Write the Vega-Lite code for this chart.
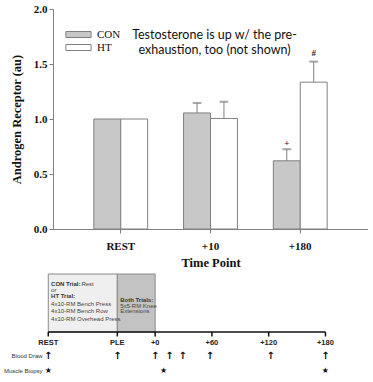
{
  "$schema": "https://vega.github.io/schema/vega-lite/v6.json",
  "padding": {"left": 3, "top": 3, "right": 0, "bottom": 0},
  "spacing": 4,
  "config": {"view": {"stroke": null}, "font": "Liberation Serif"},
  "vconcat": [
    {
      "width": 315,
      "height": 220,
      "data": {"values": [
        {"time": "REST", "group": "CON", "value": 1.0},
        {"time": "REST", "group": "HT", "value": 1.0},
        {"time": "+10", "group": "CON", "value": 1.055, "err": 1.145},
        {"time": "+10", "group": "HT", "value": 1.005, "err": 1.157},
        {"time": "+180", "group": "CON", "value": 0.62, "err": 0.725, "sig": "+", "sigY": 0.78},
        {"time": "+180", "group": "HT", "value": 1.335, "err": 1.522, "sig": "#", "sigY": 1.6}
      ]},
      "encoding": {
        "x": {
          "field": "time", "type": "nominal", "sort": ["REST", "+10", "+180"],
          "scale": {"paddingInner": 0.4, "paddingOuter": 0.455},
          "title": "Time Point",
          "axis": {
            "labelAngle": 0, "labelFont": "Liberation Serif", "labelFontWeight": "bold", "labelFontSize": 11,
            "labelColor": "#111", "labelPadding": 7, "tickSize": 4, "tickColor": "#808080",
            "domainColor": "#808080", "titleFont": "Liberation Serif", "titleFontWeight": "bold",
            "titleFontSize": 12.5, "titleColor": "#111", "titlePadding": 5
          }
        }
      },
      "layer": [
        {
          "mark": {"type": "bar", "stroke": "#808080", "strokeWidth": 1},
          "encoding": {
            "xOffset": {"field": "group", "sort": ["CON", "HT"]},
            "y": {
              "field": "value", "type": "quantitative", "scale": {"domain": [0, 2], "nice": false},
              "title": "Androgen Receptor (au)",
              "axis": {
                "values": [0, 0.25, 0.5, 0.75, 1, 1.25, 1.5, 1.75, 2],
                "labelExpr": "(datum.value * 2) % 1 == 0 ? format(datum.value, '.1f') : ''",
                "grid": false, "labelFont": "Liberation Serif", "labelFontWeight": "bold", "labelFontSize": 11,
                "labelColor": "#111", "labelPadding": 2, "tickSize": 4, "tickColor": "#808080",
                "domainColor": "#808080", "titleFont": "Liberation Serif", "titleFontWeight": "bold",
                "titleFontSize": 12.5, "titleColor": "#111", "titlePadding": 10
              }
            },
            "fill": {
              "field": "group", "type": "nominal",
              "scale": {"domain": ["CON", "HT"], "range": ["#c8c8c8", "#ffffff"]},
              "legend": {
                "title": null, "orient": "none", "legendX": 20, "legendY": 20,
                "symbolType": "M-4.2,-1H4.2V1H-4.2Z", "symbolSize": 36,
                "symbolStrokeColor": "#808080", "symbolStrokeWidth": 1, "symbolOpacity": 1,
                "labelOffset": 13, "labelFont": "Liberation Serif", "labelFontSize": 11,
                "labelColor": "#111", "rowPadding": 1
              }
            }
          }
        },
        {
          "transform": [{"filter": "isValid(datum.err)"}],
          "mark": {"type": "rule", "stroke": "#808080", "strokeWidth": 1},
          "encoding": {
            "xOffset": {"field": "group", "sort": ["CON", "HT"]},
            "y": {"field": "value", "type": "quantitative"},
            "y2": {"field": "err"}
          }
        },
        {
          "transform": [{"filter": "isValid(datum.err)"}],
          "mark": {"type": "tick", "orient": "horizontal", "stroke": "#808080", "fill": "#808080", "size": 8, "thickness": 1},
          "encoding": {
            "xOffset": {"field": "group", "sort": ["CON", "HT"]},
            "y": {"field": "err", "type": "quantitative"}
          }
        },
        {
          "transform": [{"filter": "isValid(datum.sig)"}],
          "mark": {"type": "text", "font": "Liberation Serif", "fontWeight": "bold", "fontSize": 9, "fill": "#222", "baseline": "middle"},
          "encoding": {
            "xOffset": {"field": "group", "sort": ["CON", "HT"]},
            "y": {"field": "sigY", "type": "quantitative"},
            "text": {"field": "sig"}
          }
        },
        {
          "data": {"values": [{"time": "+10", "ty": 1.76, "note": ["Testosterone is up w/ the pre-", "exhaustion, too (not shown)"]}]},
          "mark": {"type": "text", "font": "Lato", "fontSize": 12.5, "lineHeight": 15, "fill": "#111", "baseline": "middle", "dx": 4},
          "encoding": {
            "y": {"field": "ty", "type": "quantitative"},
            "text": {"field": "note"}
          }
        }
      ]
    },
    {
      "width": 315,
      "height": 107,
      "encoding": {
        "x": {"field": "x", "type": "quantitative", "scale": {"domain": [-108, 225], "nice": false, "zero": false}, "axis": null},
        "y": {"field": "y", "type": "quantitative", "scale": {"domain": [0, 107], "nice": false, "zero": false, "reverse": true}, "axis": null}
      },
      "layer": [
        {
          "data": {"values": [{"x": -113, "x2": -40, "y": 0, "y2": 58, "phase": "upper body"}]},
          "mark": {"type": "rect", "fill": "#efefef", "stroke": "#8a8a8a", "strokeWidth": 1},
          "encoding": {"x2": {"field": "x2"}, "y2": {"field": "y2"}}
        },
        {
          "data": {"values": [{"x": -40, "x2": 0, "y": 0, "y2": 58, "phase": "knee"}]},
          "mark": {"type": "rect", "fill": "#c3c3c3", "stroke": "#8a8a8a", "strokeWidth": 1},
          "encoding": {"x2": {"field": "x2"}, "y2": {"field": "y2"}}
        },
        {
          "data": {"values": [{"x": -113, "x2": 180, "y": 58}]},
          "mark": {"type": "rule", "stroke": "#111", "strokeWidth": 1.5},
          "encoding": {"x2": {"field": "x2"}}
        },
        {
          "data": {"values": [
            {"x": -113, "y": 58, "y2": 62.5, "lab": "REST"},
            {"x": -40, "y": 58, "y2": 62.5, "lab": "PLE"},
            {"x": 0, "y": 58, "y2": 62.5, "lab": "+0"},
            {"x": 60, "y": 58, "y2": 62.5, "lab": "+60"},
            {"x": 120, "y": 58, "y2": 62.5, "lab": "+120"},
            {"x": 180, "y": 58, "y2": 62.5, "lab": "+180"}
          ]},
          "layer": [
            {"mark": {"type": "rule", "stroke": "#111", "strokeWidth": 1.5}, "encoding": {"y2": {"field": "y2"}}},
            {"mark": {"type": "text", "font": "Liberation Sans", "fontWeight": "bold", "fontSize": 7.5, "fill": "#222", "baseline": "middle", "dy": 11}, "encoding": {"text": {"field": "lab"}}}
          ]
        },
        {
          "data": {"values": [
            {"x": -113, "y": 82}, {"x": -40, "y": 82}, {"x": 0, "y": 82}, {"x": 15, "y": 82},
            {"x": 29, "y": 82}, {"x": 58, "y": 82}, {"x": 122, "y": 82}, {"x": 180, "y": 82}
          ]},
          "mark": {"type": "text", "text": "↑", "font": "DejaVu Sans", "fontWeight": "bold", "fontSize": 10, "fill": "#111", "baseline": "middle"}
        },
        {
          "data": {"values": [{"x": -113, "y": 97}, {"x": 9, "y": 97}, {"x": 180, "y": 97}]},
          "mark": {"type": "text", "text": "★", "font": "DejaVu Sans", "fontSize": 8, "fill": "#111", "baseline": "middle"}
        },
        {
          "data": {"values": [{"x": -119, "y": 82, "t": "Blood Draw"}, {"x": -119, "y": 97, "t": "Muscle Biopsy"}]},
          "mark": {"type": "text", "font": "Liberation Sans", "fontSize": 6, "fill": "#333", "align": "right", "baseline": "middle"},
          "encoding": {"text": {"field": "t"}}
        },
        {
          "data": {"values": [
            {"x": -110, "y": 10.3, "t": "CON Trial:"},
            {"x": -110, "y": 22.3, "t": "HT Trial:"},
            {"x": -37, "y": 26, "t": "Both Trials:"}
          ]},
          "mark": {"type": "text", "font": "Liberation Sans", "fontWeight": "bold", "fontSize": 6, "fill": "#333", "align": "left", "baseline": "middle"},
          "encoding": {"text": {"field": "t"}}
        },
        {
          "data": {"values": [
            {"x": -78, "y": 10.3, "t": "Rest"},
            {"x": -110, "y": 16, "t": "or"},
            {"x": -110, "y": 30, "t": "4x10-RM Bench Press"},
            {"x": -110, "y": 37.3, "t": "4x10-RM Bench Row"},
            {"x": -110, "y": 44.7, "t": "4x10-RM Overhead Press"},
            {"x": -37, "y": 31.5, "t": "5x5-RM Knee"},
            {"x": -37, "y": 37, "t": "Extensions"}
          ]},
          "mark": {"type": "text", "font": "Liberation Sans", "fontSize": 6, "fill": "#444", "align": "left", "baseline": "middle"},
          "encoding": {"text": {"field": "t"}}
        }
      ]
    }
  ]
}
